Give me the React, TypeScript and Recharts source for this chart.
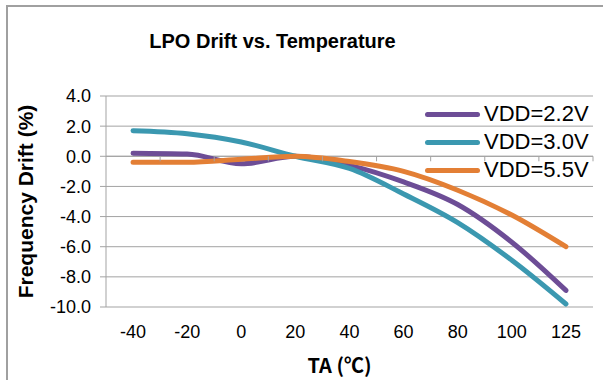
import React from "react";
import { LineChart, Line, XAxis, YAxis, CartesianGrid, ReferenceLine } from "recharts";

const TEMPS = ["-40", "-20", "0", "20", "40", "60", "80", "100", "125"];
const VDD_22 = [0.2, 0.15, -0.5, 0, -0.6, -1.7, -3.2, -5.7, -8.9];
const VDD_30 = [1.7, 1.5, 0.95, 0, -0.8, -2.5, -4.4, -6.9, -9.8];
const VDD_55 = [-0.4, -0.4, -0.2, 0, -0.35, -1.0, -2.25, -3.9, -6.0];
const Y_TICKS = [-10, -8, -6, -4, -2, 0, 2, 4];

const SERIES = [
  { key: "v22", name: "VDD=2.2V", color: "#6d4d96" },
  { key: "v30", name: "VDD=3.0V", color: "#3b98b0" },
  { key: "v55", name: "VDD=5.5V", color: "#e37f35" },
];

const data = TEMPS.map((t, i) => ({ t, v22: VDD_22[i], v30: VDD_30[i], v55: VDD_55[i] }));

const W = 603;
const H = 380;
const TOP = 96;
const LEFT = 106;
const RIGHT = 10;
const XAXIS_H = 73;
const PLOT_W = W - LEFT - RIGHT;
const PLOT_H = H - TOP - XAXIS_H;
const BAND = PLOT_W / TEMPS.length;
const ZERO_Y = TOP + (4 / 14) * PLOT_H;

const FONT = "'Liberation Sans', Arial, sans-serif";
const GRID = "#a3a3a3";

// tick label at the bottom, tick mark on the zero line (axis crosses at 0)
function XTick(props: any) {
  const { x, y, payload } = props;
  return (
    <g>
      <text x={x} y={y} dy="0.71em" textAnchor="middle" fontSize={18} fontFamily={FONT} fill="#000">
        {payload.value}
      </text>
      <line x1={x + BAND / 2} x2={x + BAND / 2} y1={ZERO_Y} y2={ZERO_Y + 5} stroke={GRID} />
    </g>
  );
}

function LegendBox() {
  return (
    <div style={{ position: "absolute", left: 425, top: 100, fontFamily: FONT, fontSize: 22, color: "#000" }}>
      {SERIES.map((s) => (
        <div key={s.key} style={{ display: "flex", alignItems: "center", height: 28 }}>
          <div style={{ width: 55, height: 5, borderRadius: 3, background: s.color, marginRight: 4 }} />
          <span>{s.name}</span>
        </div>
      ))}
    </div>
  );
}

export default function App() {
  return (
    <div style={{ position: "absolute", left: 0, top: 0, width: W, height: H, background: "#fff" }}>
      <div
        style={{
          position: "absolute",
          left: 6,
          top: 5,
          width: W - 6,
          height: H - 5,
          borderLeft: "2px solid #a0a0a0",
          borderTop: "2px solid #a0a0a0",
          boxSizing: "border-box",
        }}
      />
      <div
        style={{
          position: "absolute",
          left: 0,
          width: 545,
          top: 30,
          textAlign: "center",
          fontFamily: FONT,
          fontWeight: "bold",
          fontSize: 20,
        }}
      >
        LPO Drift vs. Temperature
      </div>
      <LineChart
        width={W}
        height={H}
        data={data}
        margin={{ top: TOP, right: RIGHT, left: 0, bottom: 0 }}
        style={{ position: "absolute", left: 0, top: 0 }}
      >
        <CartesianGrid horizontal vertical={false} stroke={GRID} />
        <XAxis
          dataKey="t"
          height={XAXIS_H}
          padding={{ left: BAND / 2, right: BAND / 2 }}
          axisLine={false}
          tickLine={false}
          tickSize={0}
          tickMargin={18}
          tick={<XTick />}
          interval={0}
          label={{
            value: "TA (℃)",
            position: "insideBottom",
            offset: 7,
            dx: -10,
            style: { fontFamily: "'Noto Sans CJK KR', sans-serif", fontWeight: "bold", fontSize: 20, fill: "#000" },
          }}
        />
        <YAxis
          width={LEFT}
          domain={[-10, 4]}
          ticks={Y_TICKS}
          interval={0}
          tickFormatter={(v: number) => v.toFixed(1)}
          axisLine={{ stroke: GRID }}
          tickLine={{ stroke: GRID }}
          tickSize={6}
          tickMargin={9}
          tick={{ fontSize: 18, fontFamily: FONT, fill: "#000" }}
          label={{
            value: "Frequency Drift (%)",
            angle: -90,
            position: "insideLeft",
            offset: 26,
            style: { fontFamily: FONT, fontWeight: "bold", fontSize: 21, fill: "#000", textAnchor: "middle" },
          }}
        />
        <ReferenceLine y={0} stroke={GRID} />
        {SERIES.map((s) => (
          <Line
            key={s.key}
            type="monotone"
            dataKey={s.key}
            name={s.name}
            stroke={s.color}
            strokeWidth={5}
            strokeLinecap="round"
            dot={false}
            isAnimationActive={false}
          />
        ))}
      </LineChart>
      <LegendBox />
    </div>
  );
}
